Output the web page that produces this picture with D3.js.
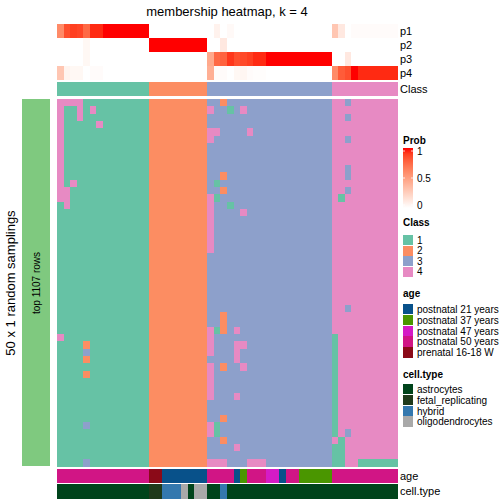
<!DOCTYPE html>
<html>
<head>
<meta charset="utf-8">
<script src="https://cdn.jsdelivr.net/npm/d3@7"></script>
<style>
html,body{margin:0;padding:0;background:#fff;}
svg{display:block;font-family:"Liberation Sans",Arial,Helvetica,sans-serif;}
</style>
</head>
<body>
<div id="chart"></div>
<script>
// ---------- data ----------
const nSamplings = 50;
const columnClass = [
  1,1,1,1,1,1,1,1,1,1,1,1,1,1,
  2,2,2,2,2,2,2,2,2,
  3,3,3,3,3,3,3,3,3,3,3,3,3,3,3,3,3,3,3,
  4,4,4,4,4,4,4,4,4,4
];
const p1 = [0.6,0.85,0.9,0.88,0.75,0.95,0.95,1,1,1,1,1,1,1,
  0,0,0,0,0,0,0,0,0,
  0,0.07,0,0.03,0,0,0,0,0,0,0,0,0,0,0,0,0,0,0,
  0.3,0.12,0,0.02,0.02,0.02,0.02,0.02,0.02,0.02];
const p2 = [0,0,0,0,0.04,0,0,0,0,0,0,0,0,0,
  1,1,1,1,1,1,1,1,1,
  0,0,0.12,0,0,0,0,0,0,0,0,0,0,0,0,0,0,0,0,
  0,0,0,0,0,0,0,0,0,0];
const p3 = [0,0,0,0,0.04,0,0,0,0,0,0,0,0,0,
  0,0,0,0,0,0,0,0,0,
  0.45,0.75,0.78,0.92,0.85,0.87,0.9,0.95,0.95,1,1,1,1,1,1,1,1,1,1,
  0,0,0.12,0,0,0,0,0,0,0];
const p4 = [0.3,0.06,0.04,0.04,0,0.02,0.02,0,0,0,0,0,0,0,
  0,0,0,0,0,0,0,0,0,
  0.42,0.02,0.02,0,0.04,0.05,0.02,0.01,0.01,0,0,0,0,0,0,0,0,0,0,
  0.6,0.8,0.85,1,0.95,0.95,0.95,0.95,0.95,0.95];
// per-sampling memberships that differ from the column's class: [row, col, class]
const deviations = [
  [0,0,4],[1,0,4],[2,0,4],[3,0,4],[4,0,4],[5,0,4],[6,0,4],[7,0,4],[8,0,4],[9,0,4],[10,0,4],[11,0,4],[12,0,4],[13,0,4],[32,0,4],
  [0,1,4],[12,1,4],[13,1,4],[14,1,4],
  [0,2,4],[11,2,4],
  [0,3,4],[1,3,4],[2,3,4],
  [33,4,2],[34,4,3],[35,4,2],[37,4,2],[44,4,3],[49,4,3],
  [1,5,4],[3,6,4],
  [1,23,4],[4,23,4],[5,23,4],[13,23,4],[14,23,4],[15,23,4],[16,23,4],[17,23,4],[18,23,4],[19,23,4],[20,23,4],
  [31,23,4],[32,23,4],[33,23,4],[34,23,4],[36,23,4],[37,23,4],[38,23,4],[39,23,4],[40,23,4],[44,23,4],[45,23,4],[49,23,4],
  [4,24,4],[11,24,1],[13,24,1],[31,24,1],[44,24,1],[45,24,1],[49,24,4],
  [0,25,2],[10,25,2],[12,25,2],[29,25,2],[30,25,2],[31,25,2],[36,25,2],[43,25,2],[46,25,2],[49,25,4],
  [1,26,1],[14,26,1],
  [31,27,4],[33,27,4],[34,27,4],[35,27,4],[40,27,4],[47,27,4],
  [1,28,4],[15,28,4],[33,28,4],[36,28,4],
  [4,29,4],[49,29,4],[49,30,4],[49,31,4],
  [32,42,1],[33,42,1],[34,42,1],[35,42,1],[36,42,1],[37,42,1],[38,42,1],[39,42,1],[40,42,1],[41,42,1],[42,42,1],[43,42,1],[44,42,1],[45,42,1],[47,42,1],[48,42,1],[49,42,1],
  [13,43,1],[46,43,1],[47,43,1],[48,43,1],[49,43,1],
  [0,44,3],[2,44,3],[5,44,3],[9,44,3],[10,44,3],[12,44,3],[28,44,3],[45,44,3],
  [49,46,1],[49,47,1],[49,48,1],[49,49,1],[49,50,1],[49,51,1]
];
const age = [
  "postnatal 50 years","postnatal 50 years","postnatal 50 years","postnatal 50 years","postnatal 50 years","postnatal 50 years","postnatal 50 years",
  "postnatal 50 years","postnatal 50 years","postnatal 50 years","postnatal 50 years","postnatal 50 years","postnatal 50 years","postnatal 50 years",
  "prenatal 16-18 W","prenatal 16-18 W",
  "postnatal 21 years","postnatal 21 years","postnatal 21 years","postnatal 21 years","postnatal 21 years","postnatal 21 years","postnatal 21 years",
  "postnatal 50 years","postnatal 50 years","postnatal 50 years","postnatal 50 years",
  "postnatal 21 years","postnatal 37 years",
  "postnatal 50 years","postnatal 50 years","postnatal 50 years",
  "postnatal 47 years","postnatal 47 years",
  "postnatal 21 years",
  "postnatal 50 years","postnatal 50 years",
  "postnatal 37 years","postnatal 37 years","postnatal 37 years","postnatal 37 years","postnatal 37 years",
  "postnatal 50 years","postnatal 50 years","postnatal 50 years","postnatal 50 years","postnatal 50 years",
  "postnatal 50 years","postnatal 50 years","postnatal 50 years","postnatal 50 years","postnatal 50 years"
];
const cellType = [
  "astrocytes","astrocytes","astrocytes","astrocytes","astrocytes","astrocytes","astrocytes",
  "astrocytes","astrocytes","astrocytes","astrocytes","astrocytes","astrocytes","astrocytes",
  "fetal_replicating","fetal_replicating",
  "hybrid","hybrid","hybrid","oligodendrocytes","astrocytes","oligodendrocytes","oligodendrocytes",
  "astrocytes","astrocytes","hybrid",
  "astrocytes","astrocytes","astrocytes","astrocytes","astrocytes","astrocytes","astrocytes","astrocytes",
  "astrocytes","astrocytes","astrocytes","astrocytes","astrocytes","astrocytes","astrocytes","astrocytes",
  "astrocytes","astrocytes","astrocytes","astrocytes","astrocytes","astrocytes","astrocytes","astrocytes",
  "astrocytes","astrocytes"
];
const classLevels = [1,2,3,4];
const classColors = ["#66C2A5","#FC8D62","#8DA0CB","#E78AC3"];
const ageLevels = ["postnatal 21 years","postnatal 37 years","postnatal 47 years","postnatal 50 years","prenatal 16-18 W"];
const ageColors = ["#08518A","#4A9600","#D51BC6","#D11585","#8B0A18"];
const cellLevels = ["astrocytes","fetal_replicating","hybrid","oligodendrocytes"];
const cellColors = ["#00441B","#1F3A1B","#3478AE","#A9A9A9"];
const probTicks = [0, 0.5, 1];

// ---------- drawing ----------
const W = 504, H = 504;
const svg = d3.select("#chart").append("svg").attr("width", W).attr("height", H);
const nCol = columnClass.length;
const x = d3.scaleBand().domain(d3.range(nCol)).range([57, 397]).padding(0);
const yRow = d3.scaleBand().domain(d3.range(nSamplings)).range([99, 466]).padding(0);
const yTop = d3.scaleBand().domain(["p1","p2","p3","p4"]).range([24, 80]).padding(0);
const classColor = d3.scaleOrdinal().domain(classLevels).range(classColors);
const ageColor = d3.scaleOrdinal().domain(ageLevels).range(ageColors);
const cellColor = d3.scaleOrdinal().domain(cellLevels).range(cellColors);
const probColor = d3.scaleLinear().domain([0,1]).range(["#FFFFFF","#FF0000"]).interpolate(d3.interpolateLab).clamp(true);

const g = svg.append("g").attr("shape-rendering","crispEdges");

// title
svg.append("text").attr("x", 227).attr("y", 16).attr("text-anchor","middle")
  .attr("font-size", 13).text("membership heatmap, k = 4");

// probability rows
const probRows = {p1, p2, p3, p4};
Object.keys(probRows).forEach(k => {
  g.selectAll(null).data(probRows[k]).enter().append("rect")
    .attr("x", (d,i) => x(i)).attr("width", x.bandwidth() + 0.5)
    .attr("y", yTop(k)).attr("height", yTop.bandwidth() + 0.3)
    .attr("fill", d => probColor(d));
  svg.append("text").attr("x", 400).attr("y", yTop(k) + yTop.bandwidth()/2 + 4)
    .attr("font-size", 11).text(k);
});
// class row
g.selectAll(null).data(columnClass).enter().append("rect")
  .attr("x", (d,i) => x(i)).attr("width", x.bandwidth() + 0.5)
  .attr("y", 82).attr("height", 14).attr("fill", d => classColor(d));
svg.append("text").attr("x", 400).attr("y", 93).attr("font-size", 11).text("Class");

// body cells
const devMap = new Map(deviations.map(d => [d[0] + "_" + d[1], d[2]]));
const cells = [];
for (let r = 0; r < nSamplings; r++) for (let c = 0; c < nCol; c++) {
  const k = r + "_" + c;
  cells.push({r, c, v: devMap.has(k) ? devMap.get(k) : columnClass[c]});
}
g.selectAll(null).data(cells).enter().append("rect")
  .attr("x", d => x(d.c)).attr("width", x.bandwidth() + 0.5)
  .attr("y", d => yRow(d.r)).attr("height", yRow.bandwidth() + 0.5)
  .attr("fill", d => classColor(d.v));

// bottom annotations
g.selectAll(null).data(age).enter().append("rect")
  .attr("x", (d,i) => x(i)).attr("width", x.bandwidth() + 0.5)
  .attr("y", 469).attr("height", 14).attr("fill", d => ageColor(d));
g.selectAll(null).data(cellType).enter().append("rect")
  .attr("x", (d,i) => x(i)).attr("width", x.bandwidth() + 0.5)
  .attr("y", 484).attr("height", 15).attr("fill", d => cellColor(d));
svg.append("text").attr("x", 400).attr("y", 480).attr("font-size", 11).text("age");
svg.append("text").attr("x", 400).attr("y", 495).attr("font-size", 11).text("cell.type");

// left sampling bar
g.append("rect").attr("x", 22).attr("y", 99).attr("width", 28).attr("height", 367).attr("fill", "#7FC97F");
svg.append("text").attr("transform", "translate(40,283) rotate(-90)").attr("text-anchor","middle")
  .attr("font-size", 10).text("top 1107 rows");
svg.append("text").attr("transform", "translate(15,283) rotate(-90)").attr("text-anchor","middle")
  .attr("font-size", 13).text("50 x 1 random samplings");

// ---------- legends ----------
const lx = 403;
// Prob
svg.append("text").attr("x", lx).attr("y", 144).attr("font-size", 10).attr("font-weight","bold").text("Prob");
const defs = svg.append("defs");
const grad = defs.append("linearGradient").attr("id","pg").attr("x1",0).attr("y1",1).attr("x2",0).attr("y2",0);
d3.range(0, 1.0001, 0.1).forEach(t => grad.append("stop").attr("offset", t).attr("stop-color", probColor(t)));
const yLeg = d3.scaleLinear().domain([0,1]).range([205, 151]);
svg.append("rect").attr("x", lx).attr("y", 148).attr("width", 10).attr("height", 60).attr("fill","url(#pg)");
probTicks.forEach(t => {
  svg.append("line").attr("x1", lx).attr("x2", lx + 2).attr("y1", yLeg(t)).attr("y2", yLeg(t)).attr("stroke","#fff").attr("stroke-width",0.8);
  svg.append("line").attr("x1", lx + 8).attr("x2", lx + 10).attr("y1", yLeg(t)).attr("y2", yLeg(t)).attr("stroke","#fff").attr("stroke-width",0.8);
  svg.append("text").attr("x", lx + 14).attr("y", yLeg(t) + 3.5).attr("font-size", 10).text(t);
});

function discreteLegend(title, levels, scale, yTitle, yStart, step) {
  svg.append("text").attr("x", lx).attr("y", yTitle).attr("font-size", 10).attr("font-weight","bold").text(title);
  levels.forEach((lv, i) => {
    svg.append("rect").attr("x", lx).attr("y", yStart + i*step).attr("width", 10).attr("height", step - 0.5)
      .attr("fill", scale(lv)).attr("shape-rendering","crispEdges");
    svg.append("text").attr("x", lx + 14).attr("y", yStart + i*step + step/2 + 3.5).attr("font-size", 10).text(lv);
  });
}
discreteLegend("Class", classLevels, classColor, 226, 235, 10.5);
discreteLegend("age", ageLevels, ageColor, 297, 304, 10.8);
discreteLegend("cell.type", cellLevels, cellColor, 378, 384, 10.8);
</script>
</body>
</html>
